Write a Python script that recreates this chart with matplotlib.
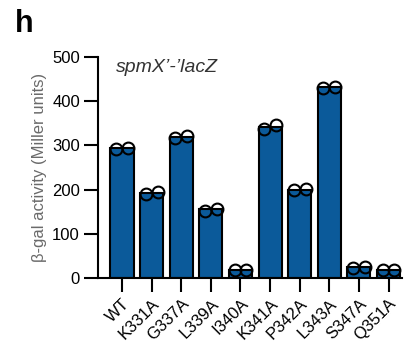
import matplotlib
matplotlib.use("Agg")
import matplotlib.pyplot as plt
import numpy as np

plt.rcParams['font.family'] = ['Liberation Sans', 'DejaVu Sans']

categories = ["WT", "K331A", "G337A", "L339A", "I340A", "K341A", "P342A", "L343A", "S347A", "Q351A"]
means = [294, 193, 319, 155, 17, 342, 200, 431, 24, 18]
rep1 = [292, 191, 316, 152, 17, 338, 200, 429, 23, 17]
rep2 = [295, 195, 322, 157, 18, 346, 201, 433, 25, 19]
yticks = [0, 100, 200, 300, 400, 500]

fig = plt.figure(figsize=(4.14, 3.47), dpi=100)
ax = fig.add_axes([0.2367, 0.199, 0.734, 0.637])

x = np.arange(len(categories))
ax.bar(x, means, width=0.78, color="#0b5a9a", edgecolor="black", linewidth=1.5, zorder=2)
ax.plot(x - 0.2, rep1, 'o', mfc='none', mec='black', mew=1.5, ms=8.5, zorder=3, clip_on=False)
ax.plot(x + 0.2, rep2, 'o', mfc='none', mec='black', mew=1.5, ms=8.5, zorder=3, clip_on=False)

ax.set_xlim(-0.81, 9.45)
ax.set_ylim(0, 500)
ax.set_yticks(yticks)
ax.set_xticks(x)
ax.set_xticklabels(categories, rotation=45, ha='right', rotation_mode='anchor')
for s in ['top', 'right']:
    ax.spines[s].set_visible(False)
for s in ['left', 'bottom']:
    ax.spines[s].set_linewidth(1.5)
ax.tick_params(axis='both', length=10, width=1.5, labelsize=12, pad=3)
ax.set_ylabel("β-gal activity (Miller units)", fontsize=12, color="#6a6a6a", labelpad=4)
ax.text(0.06, 0.99, "spmX’-’lacZ", transform=ax.transAxes, fontsize=14, style='italic',
        color="#333333", va='top', ha='left')
fig.text(0.035, 0.975, "h", fontsize=22, fontweight='bold', va='top', ha='left')

fig.savefig("out.png", dpi=100)
